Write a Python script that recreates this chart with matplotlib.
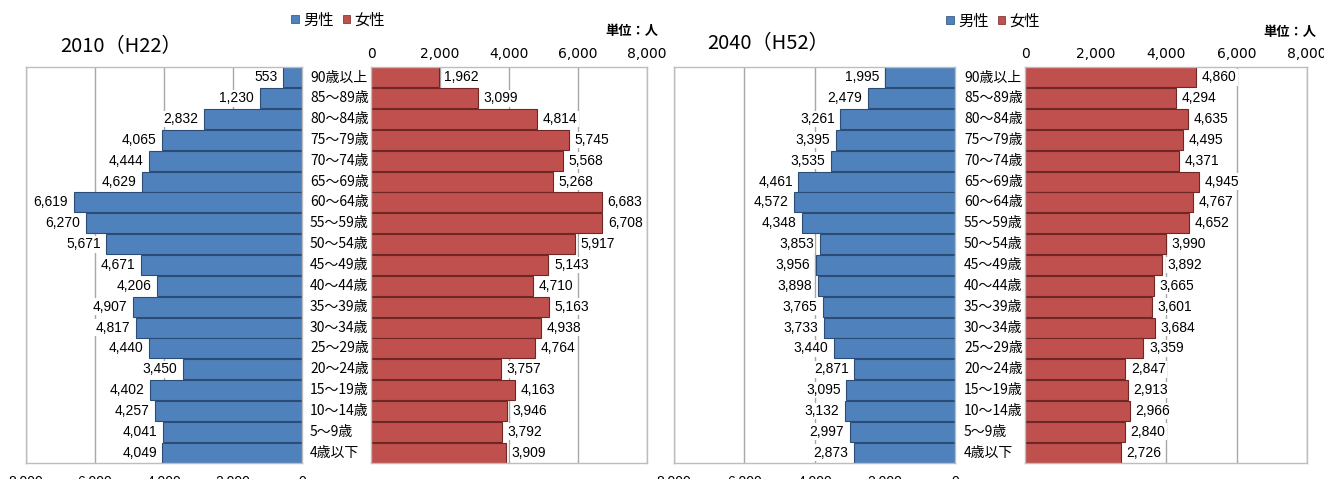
import matplotlib
matplotlib.use("Agg")
import matplotlib.pyplot as plt
from matplotlib.patches import Patch
from matplotlib.ticker import FuncFormatter
from matplotlib.transforms import blended_transform_factory

# Age groups, oldest first (top of the pyramid)
age_groups = ["90歳以上", "85～89歳", "80～84歳", "75～79歳", "70～74歳",
              "65～69歳", "60～64歳", "55～59歳", "50～54歳", "45～49歳",
              "40～44歳", "35～39歳", "30～34歳", "25～29歳", "20～24歳",
              "15～19歳", "10～14歳", "5～9歳", "4歳以下"]

male_2010 = [553, 1230, 2832, 4065, 4444, 4629, 6619, 6270, 5671, 4671,
             4206, 4907, 4817, 4440, 3450, 4402, 4257, 4041, 4049]
female_2010 = [1962, 3099, 4814, 5745, 5568, 5268, 6683, 6708, 5917, 5143,
               4710, 5163, 4938, 4764, 3757, 4163, 3946, 3792, 3909]

male_2040 = [1995, 2479, 3261, 3395, 3535, 4461, 4572, 4348, 3853, 3956,
             3898, 3765, 3733, 3440, 2871, 3095, 3132, 2997, 2873]
female_2040 = [4860, 4294, 4635, 4495, 4371, 4945, 4767, 4652, 3990, 3892,
               3665, 3601, 3684, 3359, 2847, 2913, 2966, 2840, 2726]

titles = ["2010（H22）", "2040（H52）"]
x_ticks = [0, 2000, 4000, 6000, 8000]
x_max = 8000

MALE_COLOR = "#4F81BD"
MALE_EDGE = "#2B4C74"
FEMALE_COLOR = "#C0504D"
FEMALE_EDGE = "#6E2725"
GRID_COLOR = "#A8A8A8"
FRAME_COLOR = "#BDBDBD"

JP = ["Noto Sans CJK JP", "DejaVu Sans"]
NUM = ["Liberation Sans Narrow", "Liberation Sans", "DejaVu Sans"]

W, H = 1324, 479
fig = plt.figure(figsize=(W / 100, H / 100), dpi=100)
fig.patch.set_facecolor("white")


def fx(px):
    return px / W


def fy(py):
    return 1 - py / H


def rect(x0, x1, y0, y1):
    return [fx(x0), fy(y1), fx(x1) - fx(x0), (y1 - y0) / H]


comma = FuncFormatter(lambda v, p: f"{int(v):,}")

panels = [
    dict(male=male_2010, female=female_2010, title=titles[0],
         male_px=(26, 302), female_px=(371, 647), label_x=310,
         title_xy=(60, 47), legend_xy=(338, 20), unit_xy=(658, 31)),
    dict(male=male_2040, female=female_2040, title=titles[1],
         male_px=(674, 955), female_px=(1025, 1307), label_x=964,
         title_xy=(707, 44), legend_xy=(993, 21), unit_xy=(1316, 32)),
]

top_px, bottom_px = 67, 463
n = len(age_groups)
ypos = list(range(n - 1, -1, -1))  # first group drawn at the top

for p in panels:
    ax_m = fig.add_axes(rect(p["male_px"][0], p["male_px"][1], top_px, bottom_px))
    ax_f = fig.add_axes(rect(p["female_px"][0], p["female_px"][1], top_px, bottom_px))

    for ax, vals, fc, ec, side in ((ax_m, p["male"], MALE_COLOR, MALE_EDGE, "m"),
                                    (ax_f, p["female"], FEMALE_COLOR, FEMALE_EDGE, "f")):
        ax.set_xlim(0, x_max)
        ax.set_ylim(-0.5, n - 0.5)
        ax.set_xticks(x_ticks)
        ax.xaxis.set_major_formatter(comma)
        ax.set_yticks([])
        ax.grid(axis="x", color=GRID_COLOR, linewidth=1.0)
        ax.set_axisbelow(True)
        for s in ax.spines.values():
            s.set_color(FRAME_COLOR)
            s.set_linewidth(1.0)
        ax.tick_params(axis="x", length=0, labelsize=10)
        for lab in ax.get_xticklabels():
            lab.set_family(NUM)

        bars = ax.barh(ypos, vals, height=0.96, color=fc, edgecolor=ec,
                       linewidth=0.8, zorder=2)
        for b, v in zip(bars, vals):
            yc = b.get_y() + b.get_height() / 2
            if side == "m":
                ax.annotate(f"{v:,}", xy=(v, yc), xytext=(-4, 0),
                            textcoords="offset points", ha="right", va="center",
                            fontsize=10, family=NUM, zorder=3,
                            bbox=dict(boxstyle="square,pad=0.1", fc="white", ec="none"))
            else:
                ax.annotate(f"{v:,}", xy=(v, yc), xytext=(4, 0),
                            textcoords="offset points", ha="left", va="center",
                            fontsize=10, family=NUM, zorder=3,
                            bbox=dict(boxstyle="square,pad=0.1", fc="white", ec="none"))

    ax_m.invert_xaxis()
    ax_m.xaxis.tick_bottom()
    ax_m.tick_params(axis="x", pad=9)
    ax_f.xaxis.tick_top()
    ax_f.tick_params(axis="x", pad=4.5)

    # Age group labels in the gap between the two halves
    tr = blended_transform_factory(fig.transFigure, ax_f.transData)
    for y, lab in zip(ypos, age_groups):
        fig.text(fx(p["label_x"]), y, lab, transform=tr, ha="left", va="center",
                 fontsize=10, family=JP)

    fig.text(fx(p["title_xy"][0]), fy(p["title_xy"][1]), p["title"],
             ha="left", va="center", fontsize=14.5, family=JP)

    fig.text(fx(p["unit_xy"][0]), fy(p["unit_xy"][1]), "単位：人",
             ha="right", va="center", fontsize=9.5, fontweight="bold", family=JP)

    handles = [Patch(facecolor=MALE_COLOR, edgecolor=MALE_EDGE, linewidth=0.5),
               Patch(facecolor=FEMALE_COLOR, edgecolor=FEMALE_EDGE, linewidth=0.5)]
    fig.legend(handles, ["男性", "女性"], loc="center",
               bbox_to_anchor=(fx(p["legend_xy"][0]), fy(p["legend_xy"][1])),
               ncol=2, frameon=False, handlelength=0.5, handleheight=0.5,
               handletextpad=0.25, columnspacing=0.6, borderpad=0,
               prop=dict(family=JP, size=11))

fig.savefig("out.png", dpi=100, facecolor="white")
